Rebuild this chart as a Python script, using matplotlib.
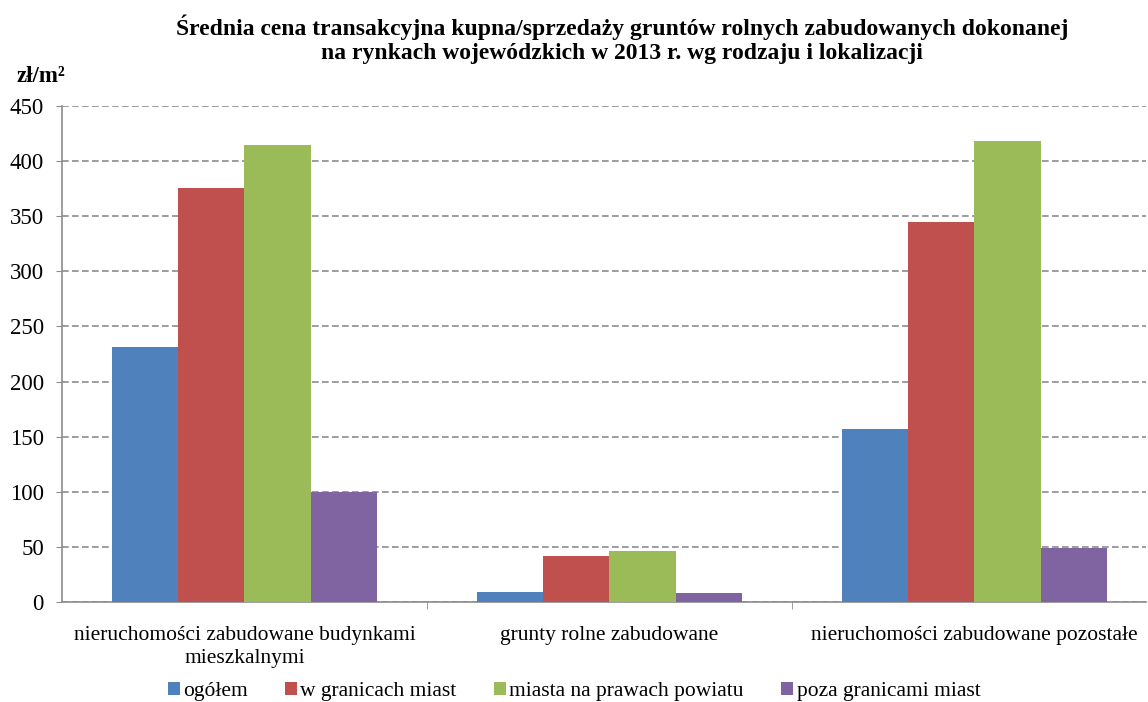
import numpy as np
import matplotlib
matplotlib.use('Agg')
import matplotlib.pyplot as plt

plt.rcParams['font.family'] = ['Liberation Serif', 'DejaVu Serif']

# dane
kategorie = ['nieruchomości zabudowane budynkami\nmieszkalnymi',
             'grunty rolne zabudowane',
             'nieruchomości zabudowane pozostałe']
serie = ['ogółem', 'w granicach miast', 'miasta na prawach powiatu', 'poza granicami miast']
ogolem = [231, 9, 157]
w_granicach = [376, 42, 345]
miasta_powiat = [415, 46, 418]
poza_granicami = [100, 8, 49]
kolory = ['#4f81bd', '#c0504d', '#9bbb59', '#8064a2']

wartosci = [ogolem, w_granicach, miasta_powiat, poza_granicami]

fig = plt.figure(figsize=(11.48, 7.02), dpi=100)
ax = fig.add_axes([62 / 1148, 1 - 602 / 702, 1084 / 1148, 496 / 702])

x = np.arange(len(kategorie))
szer = 0.181
for i, (nazwa, wart) in enumerate(zip(serie, wartosci)):
    ax.bar(x + (i - 1.5) * szer, wart, szer, color=kolory[i], label=nazwa, zorder=3)

ax.set_xlim(-0.5, 2.47)
ax.set_ylim(0, 450)
ax.set_yticks(range(0, 451, 50))
ax.yaxis.grid(True, linestyle=(0, (4, 2)), color='#8c8c8c', linewidth=1.2, zorder=0)

ax.set_xticks(x)
ax.set_xticklabels(kategorie, fontsize=15.5, linespacing=1.3)
ax.tick_params(axis='x', length=0, pad=17)
ax.set_xticks([0.5, 1.5], minor=True)
ax.tick_params(axis='x', which='minor', length=5, color='#8c8c8c')
ax.tick_params(axis='y', labelsize=16.5, length=4, pad=9, color='#8c8c8c')

for s in ['top', 'right']:
    ax.spines[s].set_visible(False)
for s in ['left', 'bottom']:
    ax.spines[s].set_color('#8c8c8c')
    ax.spines[s].set_linewidth(1.2)

fig.text(0.542, 0.944, 'Średnia cena transakcyjna kupna/sprzedaży gruntów rolnych zabudowanych dokonanej\n'
         'na rynkach wojewódzkich w 2013 r. wg rodzaju i lokalizacji',
         ha='center', va='center', fontsize=17, fontweight='bold', linespacing=1.15)
fig.text(0.014, 0.891, 'zł/m²', fontsize=16.5, fontweight='bold', va='center')

fig.legend(loc='center', bbox_to_anchor=(0.5, 0.015), ncol=4, frameon=False,
           fontsize=15.5, handlelength=0.55, handleheight=0.55, handletextpad=0.15,
           columnspacing=1.75)

fig.savefig('out.png', dpi=100)
